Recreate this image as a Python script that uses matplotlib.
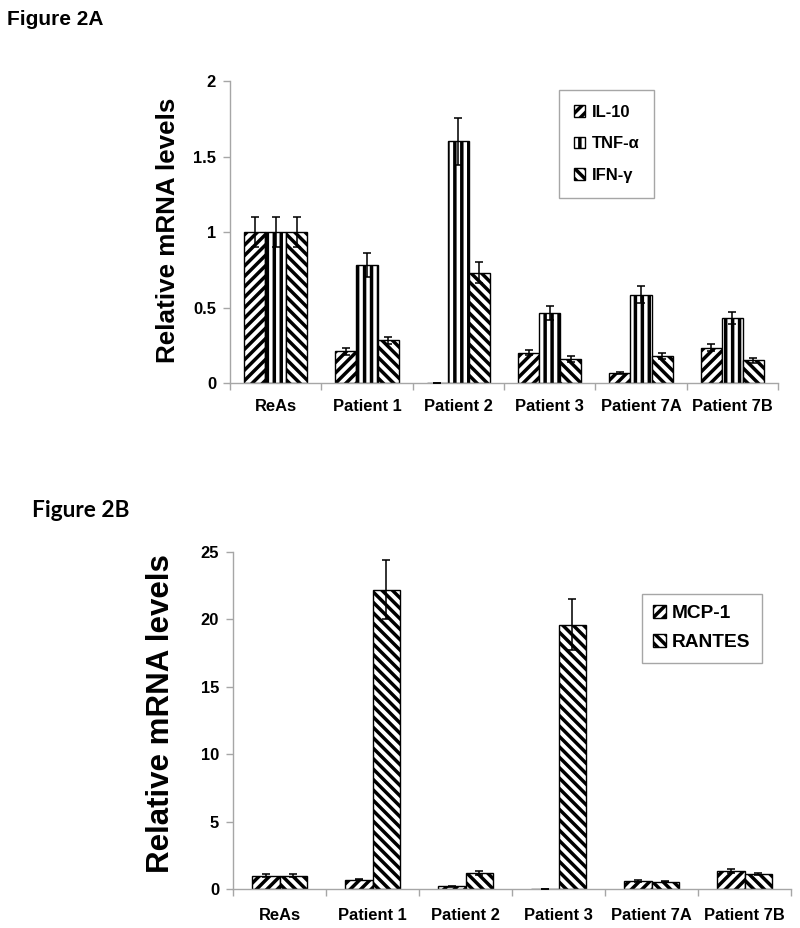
import matplotlib
matplotlib.use("Agg")
import matplotlib.pyplot as plt
import numpy as np

# %% data
categories = ["ReAs", "Patient 1", "Patient 2", "Patient 3", "Patient 7A", "Patient 7B"]

# Figure 2A
il10 = [1.00, 0.21, 0.003, 0.20, 0.065, 0.235]
il10_err = [0.10, 0.022, 0.0, 0.017, 0.005, 0.022]
tnfa = [1.00, 0.78, 1.60, 0.465, 0.585, 0.43]
tnfa_err = [0.10, 0.08, 0.155, 0.048, 0.057, 0.04]
ifng = [1.00, 0.283, 0.73, 0.157, 0.18, 0.15]
ifng_err = [0.10, 0.024, 0.07, 0.02, 0.02, 0.015]

# Figure 2B
mcp1 = [1.00, 0.70, 0.20, 0.02, 0.60, 1.30]
mcp1_err = [0.12, 0.05, 0.05, 0.0, 0.05, 0.15]
rantes = [1.00, 22.2, 1.20, 19.6, 0.55, 1.10]
rantes_err = [0.12, 2.2, 0.15, 1.9, 0.05, 0.07]

yticks_a = [0, 0.5, 1, 1.5, 2]
yticks_b = [0, 5, 10, 15, 20, 25]

# %% style
plt.rcParams["font.family"] = ["Liberation Sans", "DejaVu Sans"]
plt.rcParams["font.weight"] = "bold"
plt.rcParams["hatch.linewidth"] = 2.0

AXIS_GRAY = "#a6a6a6"
DPI = 125
fig = plt.figure(figsize=(800 / DPI, 928 / DPI), dpi=DPI)


def style_axes(ax, yticks, xlab_pad):
    n = len(categories)
    ax.set_xlim(0, n)
    ax.set_xticks(np.arange(n + 1))
    ax.set_xticklabels([])
    ax.set_xticks(np.arange(n) + 0.5, minor=True)
    ax.set_xticklabels(categories, minor=True, fontsize=9.5, fontweight="bold")
    ax.tick_params(axis="x", which="major", length=4, color=AXIS_GRAY, direction="out")
    ax.tick_params(axis="x", which="minor", length=0, pad=xlab_pad)
    ax.set_ylim(yticks[0], yticks[-1])
    ax.set_yticks(yticks)
    ax.set_yticklabels([f"{t:g}" for t in yticks], fontsize=9.5, fontweight="bold")
    ax.tick_params(axis="y", length=4, color=AXIS_GRAY, direction="out", pad=4)
    for s in ["top", "right"]:
        ax.spines[s].set_visible(False)
    for s in ["left", "bottom"]:
        ax.spines[s].set_color(AXIS_GRAY)
        ax.spines[s].set_linewidth(0.8)


def grouped_bars(ax, series, errs, hatches, labels, width):
    x = np.arange(len(categories)) + 0.5
    k = len(series)
    for i, (vals, err, h, lab) in enumerate(zip(series, errs, hatches, labels)):
        xi = x + (i - (k - 1) / 2) * width
        ax.bar(xi, vals, width, facecolor="white", edgecolor="black",
               linewidth=0.8, hatch=h, label=lab, zorder=2)
        ax.errorbar(xi, vals, yerr=err, fmt="none", ecolor="black",
                    elinewidth=0.9, capsize=2.5, capthick=0.9, zorder=3)


# %% Figure 2A
ax1 = fig.add_axes([230 / 800, 1 - 383 / 928, 548 / 800, 302 / 928])
grouped_bars(ax1, [il10, tnfa, ifng], [il10_err, tnfa_err, ifng_err],
             ["////", "|||", "\\\\\\\\"], ["IL-10", "TNF-α", "IFN-γ"], 0.23)
style_axes(ax1, yticks_a, 9.5)
ax1.set_ylabel("Relative mRNA levels", fontsize=15, fontweight="bold")
ax1.yaxis.set_label_coords(-0.091, 0.507)
leg1 = ax1.legend(loc="upper left", bbox_to_anchor=(0.585, 0.997), fontsize=9.5,
                  frameon=True, fancybox=False, edgecolor=AXIS_GRAY, framealpha=1,
                  handlelength=0.7, handleheight=0.7, handletextpad=0.4,
                  labelspacing=1.0, borderpad=0.9)
leg1.get_frame().set_linewidth(0.8)

# %% Figure 2B
ax2 = fig.add_axes([233 / 800, 1 - 889 / 928, 558 / 800, 337 / 928])
grouped_bars(ax2, [mcp1, rantes], [mcp1_err, rantes_err],
             ["////", "\\\\\\\\"], ["MCP-1", "RANTES"], 0.296)
style_axes(ax2, yticks_b, 11)
ax2.set_ylabel("Relative mRNA levels", fontsize=18, fontweight="bold")
ax2.yaxis.set_label_coords(-0.102, 0.522)
leg2 = ax2.legend(loc="upper left", bbox_to_anchor=(0.715, 0.905), fontsize=11,
                  frameon=True, fancybox=False, edgecolor=AXIS_GRAY, framealpha=1,
                  handlelength=0.7, handleheight=0.7, handletextpad=0.3,
                  labelspacing=0.6, borderpad=0.6)
leg2.get_frame().set_linewidth(0.8)

# %% panel titles
fig.text(7 / 800, 1 - 25 / 928, "Figure 2A", fontsize=12, fontweight="bold",
         ha="left", va="baseline")
fig.text(32 / 800, 1 - 517 / 928, "Figure 2B", fontsize=13, fontweight="bold",
         family=["Lato", "DejaVu Sans"], ha="left", va="baseline")

fig.savefig("out.png", dpi=DPI)
